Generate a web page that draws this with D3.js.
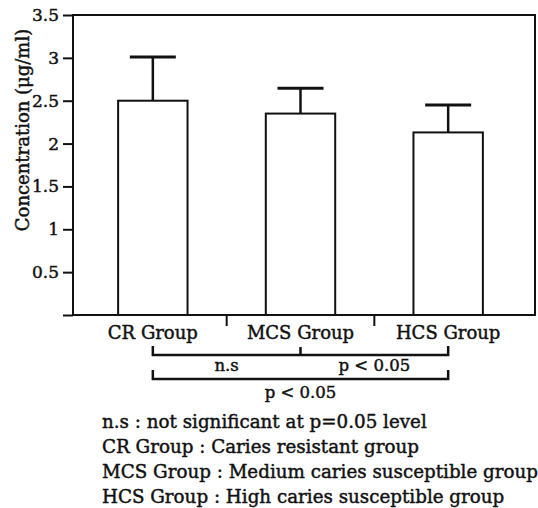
<!DOCTYPE html>
<html>
<head>
<meta charset="utf-8">
<script src="https://cdn.jsdelivr.net/npm/d3@7"></script>
<style>
    body { margin: 0; background: #fff; }
    text { font-family: "DejaVu Serif", serif; fill: #111; stroke: #111; stroke-width: 0.45px; }
</style>
</head>
<body>
<div id="chart"></div>
<script>
// Data
const categories = ["CR Group", "MCS Group", "HCS Group"];
const means = [2.50, 2.35, 2.13];
const errors = [0.51, 0.295, 0.32];
const yTicks = [0, 0.5, 1, 1.5, 2, 2.5, 3, 3.5];
const yTitle = "Concentration (\u03bcg/ml)";

// labels under the two significance brackets
const bracketLabels = [["n.s", "p < 0.05"], ["p < 0.05"]];
const footnotes = [
    "n.s : not significant at p=0.05 level",
    "CR Group : Caries resistant group",
    "MCS Group : Medium caries susceptible group",
    "HCS Group : High caries susceptible group"
];

const W = 538, H = 508;
const frame = {left: 73, right: 535, top: 15, bottom: 315};

const svg = d3.select('#chart')
    .append("svg")
        .attr("width", W)
        .attr("height", H);

const y = d3.scaleLinear()
    .domain([0, 3.5])
    .range([frame.bottom, frame.top]);

const x = d3.scaleBand()
    .domain(categories)
    .range([79, 522])
    .paddingInner(0.53)
    .paddingOuter(0.265);

const cx = d => x(d) + x.bandwidth() / 2;

// frame
svg.append("rect")
    .attr("x", frame.left)
    .attr("y", frame.top)
    .attr("width", frame.right - frame.left)
    .attr("height", frame.bottom - frame.top)
    .attr("fill", "none")
    .attr("stroke", "#111")
    .attr("stroke-width", 2);

// y axis
const yAxis = svg.append("g")
    .attr("transform", `translate(${frame.left},0)`)
    .call(d3.axisLeft(y)
        .tickValues(yTicks)
        .tickSize(10)
        .tickPadding(4)
        .tickFormat(d => d === 0 ? "" : d3.format("~g")(d)));
yAxis.select(".domain").remove();
yAxis.selectAll(".tick line").attr("stroke", "#111").attr("stroke-width", 2);
yAxis.selectAll(".tick text")
    .style("font-family", "DejaVu Serif")
    .style("font-size", "17px")
    .attr("fill", "#111");

svg.append("text")
    .attr("transform", `translate(29,130) rotate(-90)`)
    .attr("text-anchor", "middle")
    .style("font-size", "18px")
    .text(yTitle);

// bars
svg.selectAll(".bar")
    .data(categories)
    .enter().append("rect")
        .attr("x", d => x(d))
        .attr("y", (d, i) => y(means[i]))
        .attr("width", x.bandwidth())
        .attr("height", (d, i) => y(0) - y(means[i]))
        .attr("fill", "#fff")
        .attr("stroke", "#111")
        .attr("stroke-width", 2);

// error bars (upper only)
svg.selectAll(".err")
    .data(categories)
    .enter().append("line")
        .attr("x1", cx).attr("x2", cx)
        .attr("y1", (d, i) => y(means[i]))
        .attr("y2", (d, i) => y(means[i] + errors[i]))
        .attr("stroke", "#111")
        .attr("stroke-width", 2.5);

svg.selectAll(".cap")
    .data(categories)
    .enter().append("line")
        .attr("x1", d => cx(d) - 23).attr("x2", d => cx(d) + 23)
        .attr("y1", (d, i) => y(means[i] + errors[i]))
        .attr("y2", (d, i) => y(means[i] + errors[i]))
        .attr("stroke", "#111")
        .attr("stroke-width", 3);

// x axis: divider ticks between groups + labels
const dividers = categories.slice(1).map(d => x(d) - x.step() * x.paddingInner() / 2);
svg.selectAll(".divider")
    .data(dividers)
    .enter().append("line")
        .attr("x1", d => d).attr("x2", d => d)
        .attr("y1", frame.bottom).attr("y2", frame.bottom + 11)
        .attr("stroke", "#111")
        .attr("stroke-width", 2);

svg.selectAll(".catlabel")
    .data(categories)
    .enter().append("text")
        .attr("x", cx)
        .attr("y", 339)
        .attr("text-anchor", "middle")
        .style("font-size", "18px")
        .text(d => d);

// significance brackets
const bx0 = cx(categories[0]), bx1 = cx(categories[1]), bx2 = cx(categories[2]);
const bracket = (yy, mids) => {
    let p = `M${bx0},${yy - 9}V${yy}H${bx2}V${yy - 9}`;
    mids.forEach(m => { p += `M${m},${yy}V${yy - 8}`; });
    svg.append("path")
        .attr("d", p)
        .attr("fill", "none")
        .attr("stroke", "#111")
        .attr("stroke-width", 2.5);
};
bracket(355, [bx1]);
bracket(379, []);

svg.selectAll(".b1label")
    .data(bracketLabels[0])
    .enter().append("text")
        .attr("x", (d, i) => i === 0 ? (bx0 + bx1) / 2 : (bx1 + bx2) / 2)
        .attr("y", 371)
        .attr("text-anchor", "middle")
        .style("font-size", "16.5px")
        .text(d => d);

svg.append("text")
    .attr("x", (bx0 + bx2) / 2)
    .attr("y", 398)
    .attr("text-anchor", "middle")
    .style("font-size", "16.5px")
    .text(bracketLabels[1][0]);

// footnotes
svg.selectAll(".note")
    .data(footnotes)
    .enter().append("text")
        .attr("x", 102)
        .attr("y", (d, i) => 428 + i * 25)
        .style("font-size", "18.3px")
        .text(d => d);
</script>
</body>
</html>
